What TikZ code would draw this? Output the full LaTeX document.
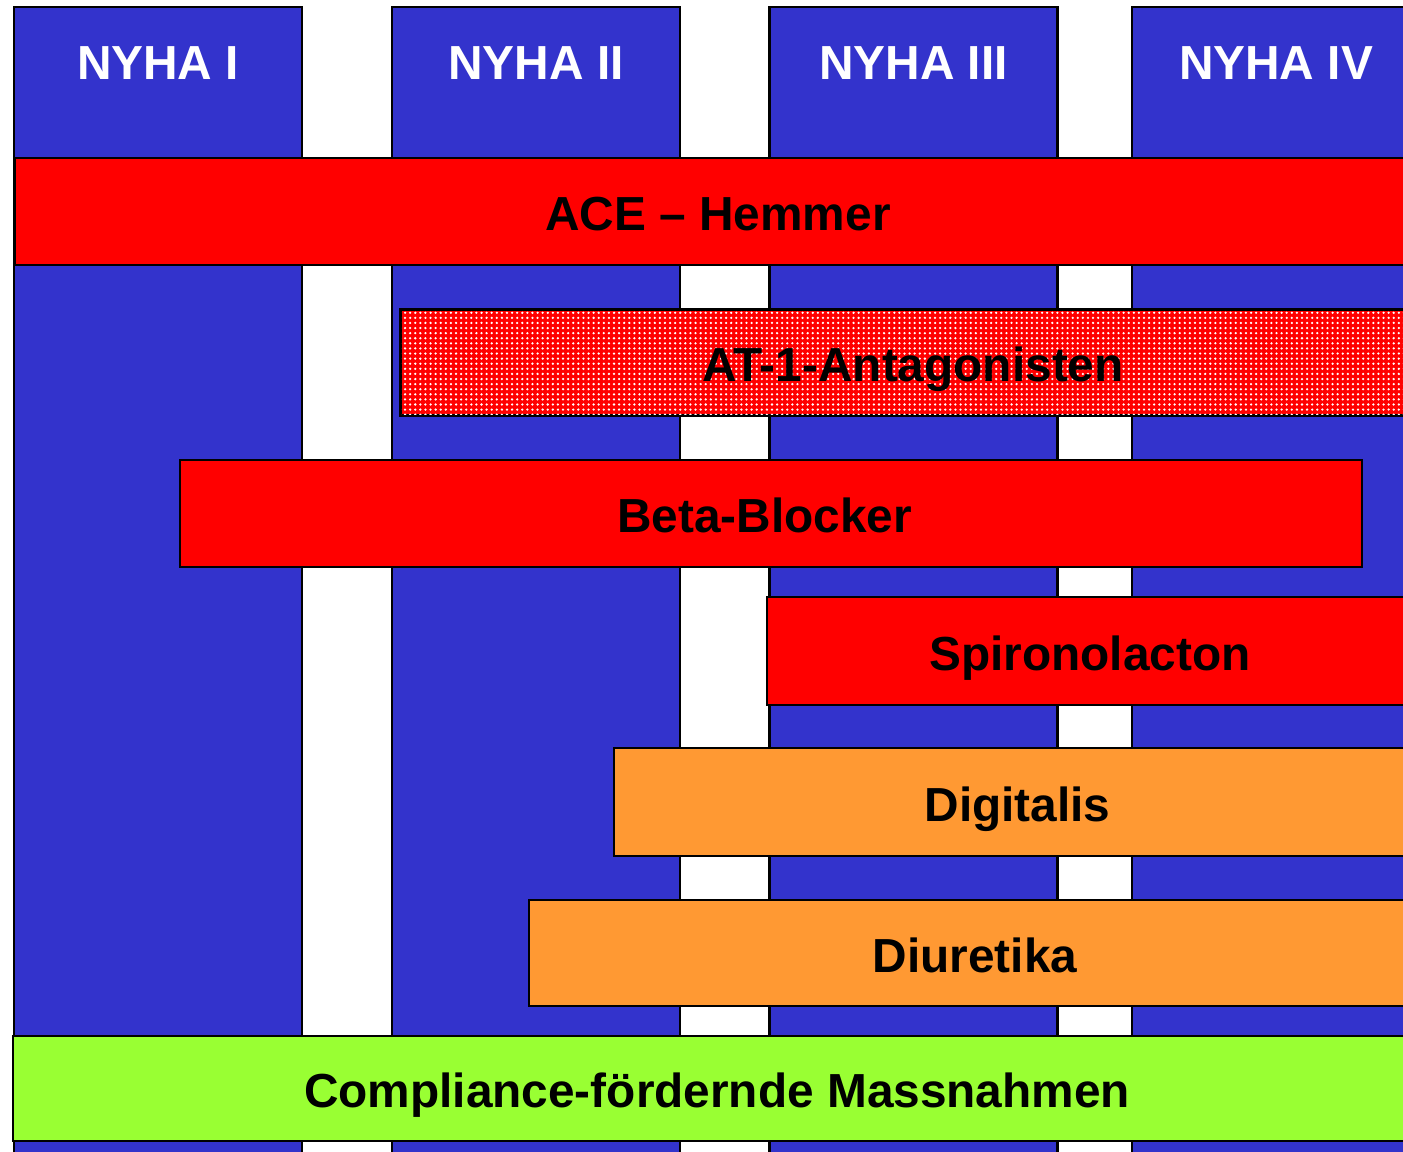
\documentclass[tikz,border=0pt]{standalone}
\usepackage{fontspec}
\setmainfont{Liberation Sans}
\usepackage{tikz}
\usetikzlibrary{patterns.meta}

\definecolor{nyhablue}{HTML}{3333CC}
\definecolor{barred}{HTML}{FF0000}
\definecolor{barorange}{HTML}{FF9933}
\definecolor{bargreen}{HTML}{99FF33}

\tikzdeclarepattern{
  name=finedots, type=uncolored,
  bottom left={(-.1pt,-.1pt)}, top right={(1.5pt,1.5pt)},
  tile size={(1.45pt,1.45pt)},
  code={\fill (0.7pt,0.7pt) circle (0.36pt);}
}

\begin{document}
\begin{tikzpicture}[line width=0.6pt,
    every node/.style={font=\fontsize{13.6}{16}\selectfont\bfseries},
    column/.style={rectangle, draw=black, fill=nyhablue, minimum width=2.88cm, minimum height=11.63cm, inner sep=0pt},
    bar/.style={rectangle, draw=black, anchor=west, inner sep=0pt, minimum height=1.07cm},
    label/.style={anchor=base, inner sep=0pt, yshift=-0.19cm}]
            \useasboundingbox (0,0) rectangle (14.03,-11.51);
            \clip (0,0) rectangle (14.03,-11.51);
            \fill[white] (0,0) rectangle (14.03,-11.51);
            % NYHA columns
            \foreach \i/\x/\t in {1/1.58/I, 2/5.36/II, 3/9.135/III, 4/12.76/IV} {
                \node[column] (col\i) at (\x, -5.885) {};
                \node[text=white, anchor=base, inner sep=0pt] (head\i) at (\x, -0.79) {NYHA \t};
            }
            % therapy bars
            \node[bar, fill=barred, minimum width=14.06cm] (ace) at (0.14, -2.115) {};
            \node[label] (acetext) at (ace.center) {ACE -- Hemmer};
            \node[bar, fill=barred, minimum width=10.24cm, minimum height=1.05cm] (at) at (4.00, -3.625) {};
            \fill[pattern=finedots, pattern color=white] (at.south west) rectangle (at.north east);
            \draw (at.south west) rectangle (at.north east);
            \node[label] (attext) at (at.center) {AT-1-Antagonisten};
            \node[bar, fill=barred, minimum width=11.82cm] (beta) at (1.79, -5.135) {};
            \node[label, xshift=-0.065cm] (betatext) at (beta.center) {Beta-Blocker};
            \node[bar, fill=barred, minimum width=6.54cm, minimum height=1.08cm] (spiro) at (7.66, -6.51) {};
            \node[label, xshift=-0.04cm] (spirotext) at (spiro.center) {Spironolacton};
            \node[bar, fill=barorange, minimum width=8.07cm, minimum height=1.08cm] (digi) at (6.13, -8.02) {};
            \node[label] (digitext) at (digi.center) {Digitalis};
            \node[bar, fill=barorange, minimum width=8.92cm, minimum height=1.06cm] (diur) at (5.28, -9.53) {};
            \node[label] (diurtext) at (diur.center) {Diuretika};
            \node[bar, fill=bargreen, minimum width=14.08cm, minimum height=1.05cm] (comp) at (0.12, -10.885) {};
            \node[label] (comptext) at (comp.center) {Compliance-fördernde Massnahmen};

        \end{tikzpicture}
\end{document}
